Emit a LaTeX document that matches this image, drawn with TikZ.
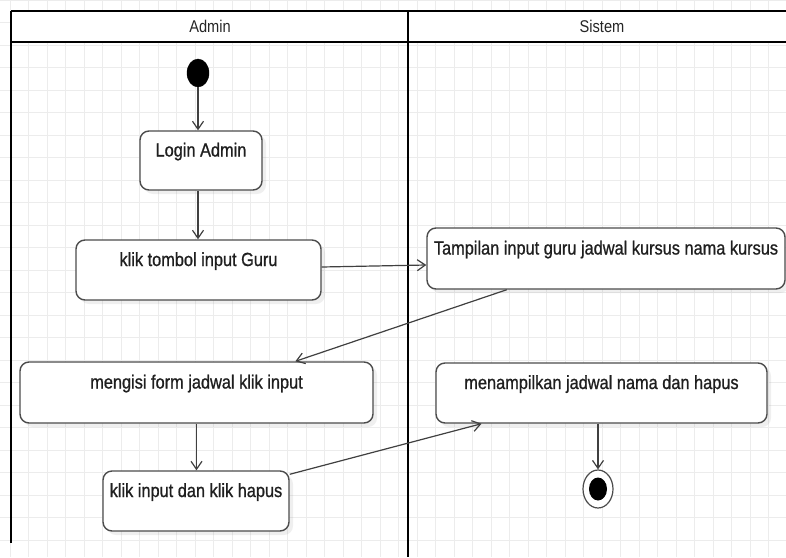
\documentclass[tikz,border=0pt]{standalone}
\usepackage{fontspec}
\setmainfont{Liberation Sans}[FakeStretch=0.86]
\newfontfamily\actionfont{Liberation Sans}[FakeStretch=0.86, FakeBold=0.9]
\usetikzlibrary{arrows.meta,calc,shadows,shapes.geometric}

\definecolor{gridline}{gray}{0.925}
\definecolor{edge}{gray}{0.25}
\definecolor{boxline}{gray}{0.30}

\tikzset{
  lane/.style={line width=2pt, black},
  lanetitle/.style={font=\fontsize{17}{20}\selectfont, text=black!85},
  action/.style={draw=boxline, line width=1.4pt, fill=white, rounded corners=9pt,
    font=\actionfont\fontsize{19}{22}\selectfont, text=black!88,
    text height=14pt, text depth=22pt, inner sep=0pt,
    drop shadow={opacity=0.12, shadow xshift=4pt, shadow yshift=-4pt}},
  initial/.style={ellipse, fill=black, draw=black, minimum width=22pt, minimum height=28pt, inner sep=0pt},
  finalouter/.style={ellipse, draw=boxline, line width=1.2pt, fill=white, minimum width=30pt, minimum height=38pt, inner sep=0pt},
  finalinner/.style={ellipse, fill=black, minimum width=18pt, minimum height=23pt, inner sep=0pt},
  flow/.style={draw=edge, line width=1.2pt, -{Straight Barb[length=8pt,width=11pt]}},
}

\begin{document}
\begin{tikzpicture}[x=1pt, y=-1pt]
  \useasboundingbox (0,0) rectangle (786,557);
  \fill[white] (0,0) rectangle (786,557);

  % background grid
  \foreach \gx in {10,28.5,...,786} \draw[gridline, line width=0.6pt] (\gx,0) -- (\gx,557);
  \foreach \gy in {0,22.5,...,557} \draw[gridline, line width=0.6pt] (0,\gy) -- (786,\gy);

  % swimlane headers
  \fill[white] (11,11) rectangle (786,42);
  \draw[lane] (11,11) -- (786,11);
  \draw[lane] (11,42) -- (786,42);
  \draw[lane] (11,11) -- (11,543);
  \draw[lane] (408,11) -- (408,557);
  \node[lanetitle] (admin) at (210,26) {Admin};
  \node[lanetitle] (sistem) at (602,26) {Sistem};

  % actions
  \node[initial] (start) at (198,73) {};
  \node[action, minimum width=122pt, minimum height=59pt] (login) at (201,160.5) {Login Admin};
  \node[action, minimum width=245pt, minimum height=60pt] (tombol) at (198.5,270) {klik tombol input Guru};
  \node[action, minimum width=358pt, minimum height=61pt] (tampilan) at (606,258.5) {Tampilan input guru jadwal kursus nama kursus};
  \node[action, minimum width=353pt, minimum height=61pt] (mengisi) at (196.5,392.5) {mengisi form jadwal klik input};
  \node[action, minimum width=331pt, minimum height=60pt] (menampilkan) at (601.5,393) {menampilkan jadwal nama dan hapus};
  \node[action, minimum width=186pt, minimum height=60pt] (hapus) at (196,501) {klik input dan klik hapus};
  \node[finalouter] (final) at (598,489) {};
  \node[finalinner] (finaldot) at (final.center) {};

  % control flows
  \draw[flow] (start.south) -- (start.south |- login.north);
  \draw[flow] (login.south -| start.south) -- (tombol.north -| start.south);
  \draw[flow] ([yshift=3pt]tombol.east) -- ([yshift=-6.5pt]tampilan.west);
  \draw[flow] ($(tampilan.south west)!0.224!(tampilan.south east)$) -- ($(mengisi.north west)!0.779!(mengisi.north east)$);
  \draw[flow] (mengisi.south) -- (mengisi.south |- hapus.north);
  \draw[flow] ($(hapus.north east)+(0,4)$) -- ($(menampilkan.south west)!0.139!(menampilkan.south east)$);
  \draw[flow] (final.north |- menampilkan.south) -- (final.north);
\end{tikzpicture}
\end{document}
